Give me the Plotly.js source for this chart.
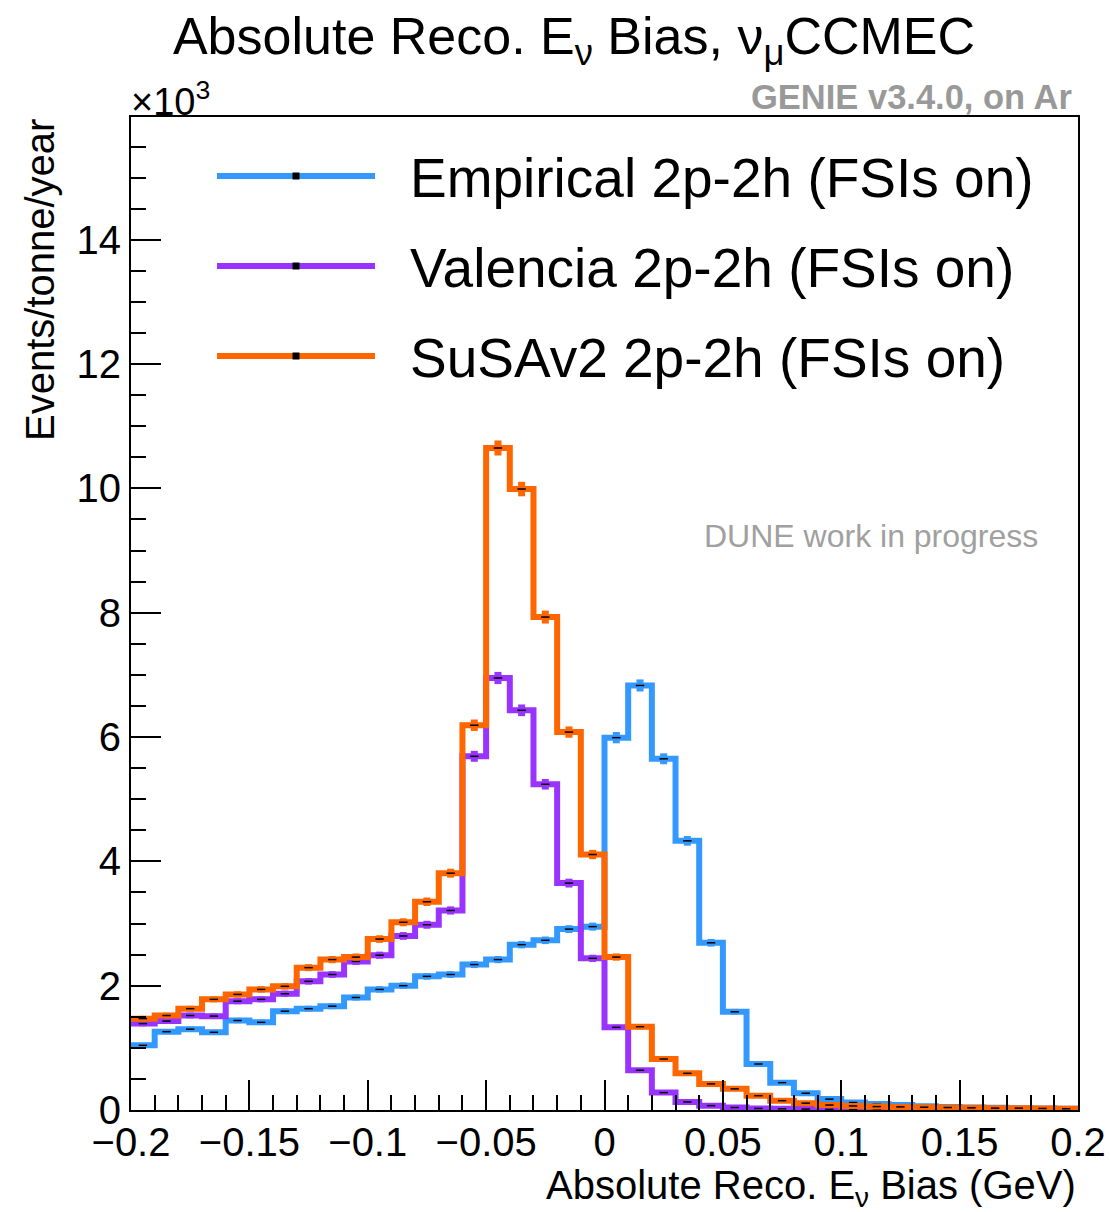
<!DOCTYPE html>
<html>
<head>
<meta charset="utf-8">
<script src="https://cdn.plot.ly/plotly-3.0.1.min.js"></script>
<style>html,body{margin:0;padding:0;background:#fff;}#chart{width:1111px;height:1212px;}</style>
</head>
<body>
<div id="chart"></div>
<script>
// Bin centres (GeV), 0.01 GeV wide bins from -0.2 to 0.2
const binCenters = [-0.195,-0.185,-0.175,-0.165,-0.155,-0.145,-0.135,-0.125,-0.115,-0.105,
  -0.095,-0.085,-0.075,-0.065,-0.055,-0.045,-0.035,-0.025,-0.015,-0.005,
  0.005,0.015,0.025,0.035,0.045,0.055,0.065,0.075,0.085,0.095,
  0.105,0.115,0.125,0.135,0.145,0.155,0.165,0.175,0.185,0.195];

const seriesNames = ["Empirical 2p-2h (FSIs on)", "Valencia 2p-2h (FSIs on)", "SuSAv2 2p-2h (FSIs on)"];
const seriesColors = ["#3399FF", "#9933FF", "#FF6600"];

// Events/tonne/year in units of 10^3
const empirical = [1.04,1.26,1.30,1.25,1.44,1.41,1.59,1.63,1.67,1.81,
  1.94,2.00,2.15,2.18,2.34,2.42,2.66,2.73,2.91,2.95,
  5.99,6.83,5.65,4.33,2.69,1.58,0.74,0.44,0.27,0.175,
  0.12,0.095,0.08,0.06,0.05,0.04,0.035,0.03,0.025,0.02];
const valencia = [1.39,1.43,1.52,1.51,1.75,1.78,1.87,2.07,2.18,2.39,
  2.49,2.80,2.98,3.21,5.69,6.95,6.43,5.24,3.65,2.44,
  1.33,0.64,0.28,0.13,0.07,0.04,0.025,0.02,0.015,0.01,
  0.01,0.008,0.006,0.005,0.004,0.003,0.003,0.002,0.002,0.001];
const susav2 = [1.47,1.52,1.63,1.78,1.86,1.94,1.99,2.29,2.42,2.46,
  2.75,3.02,3.35,3.81,6.19,10.65,9.99,7.93,6.08,4.11,
  2.46,1.34,0.82,0.59,0.42,0.34,0.23,0.15,0.11,0.08,
  0.065,0.055,0.05,0.045,0.04,0.035,0.03,0.03,0.025,0.02];

// Statistical errors (10^3)
const empiricalErr = [.038,.042,.042,.041,.044,.044,.047,.047,.048,.050,
  .052,.052,.054,.055,.057,.058,.060,.061,.063,.064,
  .091,.097,.088,.077,.061,.047,.032,.025,.019,.015,
  .013,.011,.010,.009,.008,.007,.007,.006,.006,.005];
const valenciaErr = [.044,.044,.046,.045,.049,.049,.051,.053,.055,.057,
  .058,.062,.064,.066,.088,.098,.094,.085,.071,.058,
  .043,.030,.020,.013,.010,.007,.006,.005,.005,.004,
  .004,.003,.003,.003,.002,.002,.002,.002,.002,.001];
const susav2Err = [.045,.046,.047,.049,.050,.052,.052,.056,.058,.058,
  .061,.064,.068,.072,.092,.121,.117,.104,.091,.075,
  .058,.043,.034,.028,.024,.022,.018,.014,.012,.010,
  .009,.009,.008,.008,.007,.007,.006,.006,.006,.005];

const seriesValues = [empirical, valencia, susav2];
const seriesErrors = [empiricalErr, valenciaErr, susav2Err];

const FONT = "Liberation Sans, Arial, Helvetica, sans-serif";

const half = (binCenters[1] - binCenters[0]) / 2;
const edges = binCenters.map(c => c - half).concat([binCenters[binCenters.length - 1] + half]);

const traces = [];
seriesValues.forEach((vals, k) => {
  traces.push({
    type: "scatter", mode: "lines", x: edges, y: vals.concat([vals[vals.length - 1]]),
    line: {shape: "hv", color: seriesColors[k], width: 6}, showlegend: false, hoverinfo: "skip"
  });
  traces.push({
    type: "scatter", mode: "markers", x: binCenters, y: vals,
    marker: {symbol: "line-ew", size: 6, color: "#000", line: {color: "#000", width: 1.5}},
    error_y: {type: "data", array: seriesErrors[k], visible: true, color: seriesColors[k], thickness: 7, width: 0},
    showlegend: false, name: seriesNames[k]
  });
});

// plot frame in pixels
const L = 131, R = 1078, T = 117, B = 1110;
const px2x = p => (p - L) / (R - L);
const py2y = p => (B - p) / (B - T);

const shapes = [];
const annotations = [];
const legendY = [176, 266, 356];
seriesNames.forEach((n, k) => {
  shapes.push({type: "line", xref: "paper", yref: "paper", x0: px2x(217), x1: px2x(375),
    y0: py2y(legendY[k]), y1: py2y(legendY[k]), line: {color: seriesColors[k], width: 6}});
  shapes.push({type: "rect", xref: "paper", yref: "paper", xsizemode: "pixel", ysizemode: "pixel",
    xanchor: px2x(296), yanchor: py2y(legendY[k]), x0: -3.5, x1: 3.5, y0: -3.5, y1: 3.5,
    fillcolor: "#000", line: {width: 0}});
  annotations.push({xref: "paper", yref: "paper", x: px2x(408), y: py2y(legendY[k] + 2),
    xanchor: "left", yanchor: "middle", text: n, showarrow: false,
    font: {family: FONT, size: 55, color: "#000"}});
});

annotations.push({xref: "paper", yref: "paper", x: px2x(129), y: py2y(99), xanchor: "left", yanchor: "middle",
  text: "×10<sup>3</sup>", showarrow: false, font: {family: FONT, size: 38, color: "#000"}});
annotations.push({xref: "paper", yref: "paper", x: px2x(1074), y: py2y(97), xanchor: "right", yanchor: "middle",
  text: "<b>GENIE v3.4.0, on Ar</b>", showarrow: false, font: {family: FONT, size: 34.5, color: "#999999"}});
annotations.push({xref: "paper", yref: "paper", x: px2x(871), y: py2y(536), xanchor: "center", yanchor: "middle",
  text: "DUNE work in progress", showarrow: false, font: {family: FONT, size: 32, color: "#A0A0A0"}});
annotations.push({xref: "paper", yref: "paper", x: px2x(40), y: 1, xanchor: "center", yanchor: "top",
  text: "Events/tonne/year", textangle: -90, showarrow: false, font: {family: FONT, size: 40, color: "#000"}});
annotations.push({xref: "paper", yref: "paper", x: 1, y: py2y(1188), xanchor: "right", yanchor: "middle",
  text: "Absolute Reco. E<sub>ν</sub> Bias (GeV)", showarrow: false, font: {family: FONT, size: 40, color: "#000"}});

const ymax = 1.5 * Math.max(...susav2);

const layout = {
  width: 1111, height: 1212,
  margin: {l: L, r: 1111 - R, t: T, b: 1212 - B, pad: 0},
  paper_bgcolor: "#fff", plot_bgcolor: "#fff",
  title: {text: "Absolute Reco. E<sub>ν</sub> Bias, ν<sub>μ</sub>CCMEC", x: 574 / 1111, xanchor: "center",
    xref: "container", yref: "container", y: 1 - 36 / 1212, yanchor: "middle",
    font: {family: FONT, size: 52, color: "#000"}},
  showlegend: false,
  xaxis: {range: [-0.2, 0.2], tick0: -0.2, dtick: 0.05, ticks: "inside", ticklen: 30, tickwidth: 2, tickcolor: "#000",
    showline: true, linewidth: 2, linecolor: "#000", mirror: true, showgrid: false, zeroline: false,
    ticklabelstandoff: -4,
    tickfont: {family: FONT, size: 40, color: "#000"},
    minor: {dtick: 0.01, ticks: "inside", ticklen: 15, tickwidth: 2, tickcolor: "#000", showgrid: false}},
  yaxis: {range: [0, ymax], tick0: 0, dtick: 2, ticks: "inside", ticklen: 30, tickwidth: 2, tickcolor: "#000",
    showline: true, linewidth: 2, linecolor: "#000", mirror: true, showgrid: false, zeroline: false,
    tickfont: {family: FONT, size: 40, color: "#000"},
    minor: {dtick: 0.5, ticks: "inside", ticklen: 15, tickwidth: 2, tickcolor: "#000", showgrid: false}},
  shapes: shapes,
  annotations: annotations
};

Plotly.newPlot("chart", traces, layout, {displayModeBar: false, staticPlot: true});
</script>
</body>
</html>
